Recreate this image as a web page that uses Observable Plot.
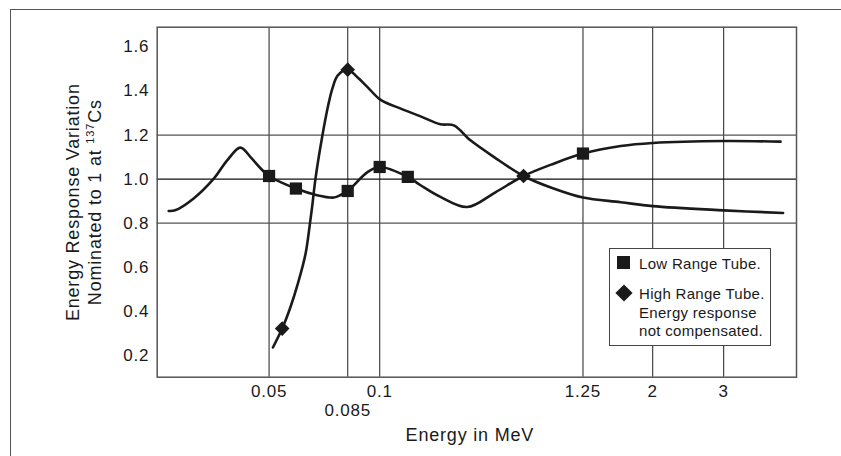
<!DOCTYPE html>
<html>
<head>
<meta charset="utf-8">
<script src="https://cdn.jsdelivr.net/npm/d3@7"></script>
<script src="https://cdn.jsdelivr.net/npm/@observablehq/plot@0.6"></script>
<style>
  html, body { margin: 0; padding: 0; background: #fff; width: 841px; height: 456px; overflow: hidden; }
  #wrap { position: relative; width: 841px; height: 456px; }
  #outer { position: absolute; left: 10px; top: 9px; width: 900px; height: 500px;
           border-left: 1.5px solid #555; border-top: 1.5px solid #555; box-sizing: border-box; }
  #chart { position: absolute; left: 0; top: 0; }
  #chart svg text { letter-spacing: 0.8px; }
  #legend { position: absolute; left: 609px; top: 248px; width: 162px; height: 98px;
            box-sizing: border-box; border: 1.5px solid #444; background: #fff;
            font-family: "Liberation Sans", Arial, Helvetica, sans-serif; font-size: 15px;
            letter-spacing: 0.3px; color: #1a1a1a; }
  #legend .sq { position: absolute; left: 7px; top: 7px; width: 13px; height: 13px; background: #1a1a1a; }
  #legend .dm { position: absolute; left: 5px; top: 35px; }
  #legend .t1 { position: absolute; left: 29px; top: 6px; line-height: 18.5px; white-space: nowrap; }
  #legend .t2 { position: absolute; left: 29px; top: 36px; line-height: 18.5px; white-space: nowrap; }
</style>
</head>
<body>
<div id="wrap">
  <div id="outer"></div>
  <div id="chart"></div>
  <div id="legend">
    <div class="sq"></div>
    <svg class="dm" width="18" height="18" viewBox="-9 -9 18 18"><path d="M0,-8.6L8.6,0L0,8.6L-8.6,0Z" fill="#1a1a1a"/></svg>
    <div class="t1">Low Range Tube.</div>
    <div class="t2">High Range Tube.<br>Energy response<br>not compensated.</div>
  </div>
</div>
<script>
// Axis positions (schematic x axis, 0–100 units) and their energy labels
const xTickPos    = [17.5, 29.8, 34.8, 66.6, 77.5, 88.6];
const xTickLabels = ["0.05", "0.085", "0.1", "1.25", "2", "3"];
const xTickRow    = [0, 1, 0, 0, 0, 0];
const yTicks      = [0.2, 0.4, 0.6, 0.8, 1.0, 1.2, 1.4, 1.6];
const yGrid       = [0.8, 1.0, 1.2];

// Low Range Tube curve
const lowX = [1.8, 2.8, 5.7, 8.85, 10.95, 13.0, 14.6, 16.2, 17.5, 21.7, 25.0, 27.6, 28.5, 29.8, 32.9, 34.8, 39.2, 41.2, 44.3, 48.5, 52.9, 57.3, 62.0, 66.6, 72.5, 77.5, 88.6, 97.5];
const lowY = [0.855, 0.858, 0.912, 1.002, 1.085, 1.143, 1.100, 1.048, 1.014, 0.957, 0.927, 0.916, 0.925, 0.946, 1.032, 1.055, 1.010, 0.972, 0.919, 0.873, 0.940, 1.014, 1.070, 1.116, 1.150, 1.164, 1.173, 1.170];
const lowMarkX = [17.5, 21.7, 29.8, 34.8, 39.2, 66.6];
const lowMarkY = [1.014, 0.957, 0.946, 1.055, 1.010, 1.116];

// High Range Tube curve
const highX = [18.1, 19.55, 20.85, 22.0, 23.2, 23.9, 24.3, 24.75, 25.8, 26.75, 27.4, 28.25, 29.8, 31.4, 32.9, 34.9, 38.1, 41.2, 44.3, 46.4, 49.0, 52.7, 57.3, 62.0, 66.6, 72.5, 77.5, 88.6, 97.9];
const highY = [0.235, 0.321, 0.419, 0.525, 0.660, 0.800, 0.890, 1.000, 1.191, 1.335, 1.411, 1.471, 1.497, 1.460, 1.418, 1.361, 1.320, 1.285, 1.249, 1.244, 1.176, 1.100, 1.014, 0.957, 0.916, 0.895, 0.877, 0.858, 0.846];
const highMarkX = [19.55, 29.8, 57.3];
const highMarkY = [0.321, 1.497, 1.014];

const low = lowX.map((x, i) => ({x, y: lowY[i]}));
const high = highX.map((x, i) => ({x, y: highY[i]}));
const lowMarks = lowMarkX.map((x, i) => ({x, y: lowMarkY[i]}));
const highMarks = highMarkX.map((x, i) => ({x, y: highMarkY[i]}));
const labelAt = new Map(xTickPos.map((p, i) => [p, xTickLabels[i]]));
const row0 = xTickPos.filter((p, i) => xTickRow[i] === 0);
const row1 = xTickPos.filter((p, i) => xTickRow[i] === 1);

const ink = "#1a1a1a";
const chart = Plot.plot({
  width: 841,
  height: 456,
  marginLeft: 156.7,
  marginRight: 45,
  marginTop: 26.7,
  marginBottom: 79.3,
  x: {domain: [0, 100], axis: null},
  y: {domain: [0.1, 1.69], axis: null},
  style: {fontFamily: "'Liberation Sans', Arial, Helvetica, sans-serif", fontSize: "17px", color: ink, background: "transparent"},
  marks: [
    Plot.ruleX(xTickPos, {stroke: "#444", strokeWidth: 1.2}),
    Plot.ruleY(yGrid, {stroke: d => d === 1.0 ? "#111" : "#555", strokeWidth: 1.2}),
    Plot.frame({stroke: "#555", strokeWidth: 1.5}),
    Plot.line(low, {x: "x", y: "y", curve: "catmull-rom", stroke: ink, strokeWidth: 2.6}),
    Plot.line(high, {x: "x", y: "y", curve: "catmull-rom", stroke: ink, strokeWidth: 2.6}),
    Plot.dot(lowMarks, {x: "x", y: "y", symbol: "square", r: 6.9, fill: ink, stroke: "none"}),
    Plot.dot(highMarks, {x: "x", y: "y", symbol: "diamond2", r: 6.6, fill: ink, stroke: "none"}),
    Plot.axisY(yTicks, {tickSize: 0, tickPadding: 8, tickFormat: d => d.toFixed(1), fontSize: 17, label: null}),
    Plot.axisX(row0, {tickSize: 0, tickPadding: 8, tickFormat: d => labelAt.get(d), fontSize: 17, label: null}),
    Plot.axisX(row1, {tickSize: 0, tickPadding: 27, tickFormat: d => labelAt.get(d), fontSize: 17, label: null}),
    Plot.text(["Energy Response Variation"], {frameAnchor: "left", textAnchor: "middle", lineAnchor: "middle", rotate: -90, dx: -84, fontSize: 18}),
    Plot.text(["Nominated to 1 at 137Cs"], {frameAnchor: "left", textAnchor: "middle", lineAnchor: "middle", rotate: -90, dx: -62, fontSize: 18}),
    Plot.text(["Energy in MeV"], {frameAnchor: "bottom", textAnchor: "middle", lineAnchor: "middle", dy: 58, dx: -7, fontSize: 18})
  ]
});
document.getElementById("chart").appendChild(chart);

// Superscript for the isotope mass number
d3.select(chart).selectAll("text").each(function() {
  if (this.textContent === "Nominated to 1 at 137Cs") {
    const t = d3.select(this);
    t.text(null);
    t.append("tspan").text("Nominated to 1 at ");
    t.append("tspan").attr("font-size", 11).attr("dy", -7).text("137");
    t.append("tspan").attr("dy", 7).text("Cs");
  }
});
</script>
</body>
</html>
